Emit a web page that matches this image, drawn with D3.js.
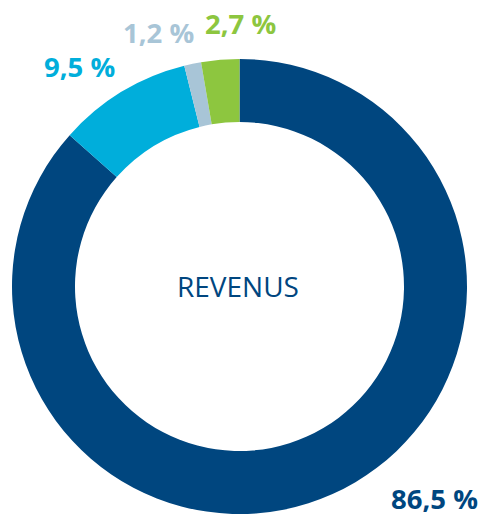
<!DOCTYPE html>
<html>
<head>
<meta charset="utf-8">
<script src="https://cdn.jsdelivr.net/npm/d3@7"></script>
<style>
  body { margin: 0; background: #fff; }
  svg { display: block; font-family: "Open Sans", sans-serif; }
</style>
</head>
<body>
<div id="chart"></div>
<script>
// Data
var categories = ["A", "B", "C", "D"];
var values = [86.5, 9.5, 1.2, 2.7];
var labels = ["86,5 %", "9,5 %", "1,2 %", "2,7 %"];
var colors = ["#00467f", "#00aedb", "#a8c5d7", "#8dc63f"];

var svgWidth = 479;
var svgHeight = 516;

var cx = 239.5, cy = 286.5;
var outerR = 227.5, innerR = 164.5;

var svg = d3.select("#chart")
  .append("svg")
  .attr("width", svgWidth)
  .attr("height", svgHeight);

var chartGroup = svg.append("g")
  .attr("transform", `translate(${cx}, ${cy})`);

var pie = d3.pie().sort(null).value(d => d);
var arc = d3.arc().innerRadius(innerR).outerRadius(outerR);

var arcs = pie(values);

chartGroup.selectAll("path")
  .data(arcs)
  .enter()
  .append("path")
  .attr("d", arc)
  .attr("fill", (d, i) => colors[i]);

// label anchors (left x, baseline) relative to the centre
var labelPos = [[151.5, 222.5], [-195.5, -209.5], [-116.5, -243.5], [-34.5, -252.5]];

chartGroup.selectAll(".lbl")
  .data(arcs)
  .enter()
  .append("text")
  .attr("class", "lbl")
  .attr("x", (d, i) => labelPos[i][0])
  .attr("y", (d, i) => labelPos[i][1])
  .attr("font-size", 27.5)
  .attr("font-weight", "bold")
  .attr("fill", (d, i) => colors[i])
  .text((d, i) => labels[i]);

chartGroup.append("text")
  .attr("x", -1.5)
  .attr("y", 10.5)
  .attr("text-anchor", "middle")
  .attr("font-size", 28)
  .attr("font-weight", 500)
  .attr("fill", "#00467f")
  .text("REVENUS");
</script>
</body>
</html>
